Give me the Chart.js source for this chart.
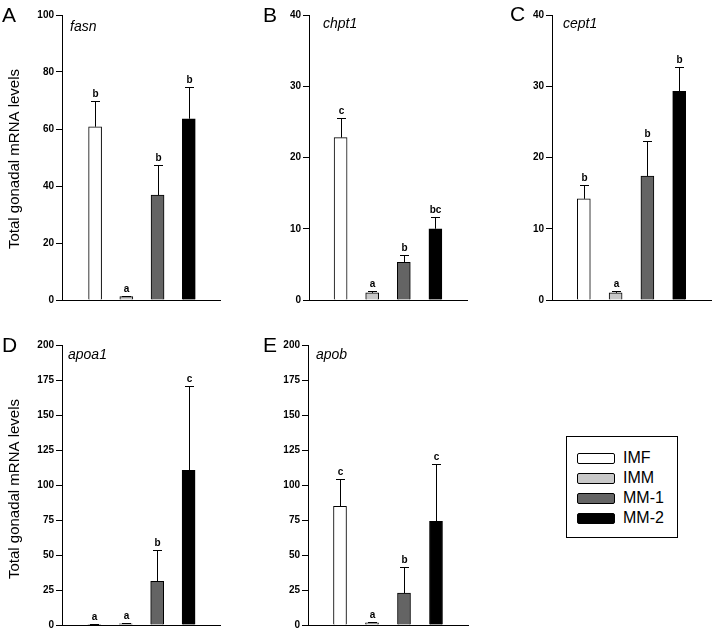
<!DOCTYPE html>
<html>
<head>
<meta charset="utf-8">
<script src="https://cdn.jsdelivr.net/npm/chart.js@4.4.0/dist/chart.umd.min.js"></script>
<style>
  body { margin: 0; background: #fff; }
  #wrap { position: relative; width: 712px; height: 633px; overflow: hidden; }
  canvas { position: absolute; }
  #legend { position: absolute; left: 566px; top: 436px; width: 110px; height: 100px;
            border: 1px solid #000; font: 16px "Liberation Sans", Arial, sans-serif; }
  .row { position: absolute; left: 10px; height: 20px; display: flex; align-items: center; }
  .sw { width: 36px; height: 9px; border: 1px solid #000; border-radius: 2px; margin-right: 8px; }
</style>
</head>
<body>
<div id="wrap">
  <canvas id="pA" width="228" height="310" style="left:0;top:0"></canvas>
  <canvas id="pB" width="240" height="310" style="left:230px;top:0"></canvas>
  <canvas id="pC" width="242" height="310" style="left:470px;top:0"></canvas>
  <canvas id="pD" width="228" height="313" style="left:0;top:320px"></canvas>
  <canvas id="pE" width="240" height="313" style="left:240px;top:320px"></canvas>
  <div id="legend"></div>
</div>
<script>
// groups and bar colours
const categories = ['IMF', 'IMM', 'MM-1', 'MM-2'];
const barColors = ['#ffffff', '#c8c8c8', '#646464', '#000000'];

// mean and SE (upper whisker)
const fasnMean = [60.8, 1.2, 36.8, 63.6];
const fasnErr = [9.0, 0.3, 10.6, 11.2];
const fasnLetters = ['b', 'a', 'b', 'b'];

const chpt1Mean = [22.8, 1.0, 5.3, 10.0];
const chpt1Err = [2.7, 0.2, 1.0, 1.7];
const chpt1Letters = ['c', 'a', 'b', 'bc'];

const cept1Mean = [14.2, 1.0, 17.4, 29.3];
const cept1Err = [1.9, 0.2, 4.9, 3.4];
const cept1Letters = ['b', 'a', 'b', 'b'];

const apoa1Mean = [0.4, 0.9, 31.2, 110.5];
const apoa1Err = [0.2, 0.3, 22.6, 60.5];
const apoa1Letters = ['a', 'a', 'b', 'c'];

const apobMean = [84.8, 1.5, 22.8, 74.0];
const apobErr = [19.8, 0.3, 18.9, 41.3];
const apobLetters = ['c', 'a', 'b', 'c'];

// y axis ticks
const ticks100 = [0, 20, 40, 60, 80, 100];
const ticks40 = [0, 10, 20, 30, 40];
const ticks200 = [0, 25, 50, 75, 100, 125, 150, 175, 200];

const FONT = '"Liberation Sans", Arial, sans-serif';
const yTitle = 'Total gonadal mRNA levels';

// whiskers, letters, panel label, gene name, y title
const panelDecor = {
  id: 'panelDecor',
  afterDatasetsDraw(chart, args, o) {
    const ctx = chart.ctx;
    const xs = chart.scales.x, ys = chart.scales.y;
    ctx.save();
    ctx.strokeStyle = '#000';
    ctx.fillStyle = '#000';
    ctx.lineWidth = 1;
    o.mean.forEach((m, i) => {
      const px = Math.round(xs.getPixelForValue(i + 1));
      const barTop = ys.getPixelForValue(m);
      const top = Math.round(ys.getPixelForValue(m + o.err[i]));
      ctx.beginPath();
      ctx.moveTo(px + 0.5, barTop);
      ctx.lineTo(px + 0.5, top);
      ctx.moveTo(px - 4, top + 0.5);
      ctx.lineTo(px + 5, top + 0.5);
      ctx.stroke();
      ctx.font = 'bold 10px ' + FONT;
      ctx.textAlign = 'center';
      ctx.textBaseline = 'alphabetic';
      ctx.fillText(o.letters[i], px + 0.5, Math.min(top, barTop) - 4);
    });
    ctx.textAlign = 'left';
    ctx.font = '21px ' + FONT;
    ctx.fillText(o.panel, o.panelX, o.panelY);
    ctx.font = 'italic 14px ' + FONT;
    ctx.fillText(o.gene, o.geneX, o.geneY);
    if (o.titleY) {
      ctx.translate(19, o.titleY);
      ctx.rotate(-Math.PI / 2);
      ctx.textAlign = 'center';
      ctx.font = '15px ' + FONT;
      ctx.fillText(yTitle, 0, 0);
    }
    ctx.restore();
  }
};

function makePanel(id, mean, err, letters, yTicks, layout, deco) {
  new Chart(document.getElementById(id), {
    type: 'bar',
    data: {
      datasets: [{
        data: categories.map((c, i) => ({ x: i + 1, y: mean[i] })),
        backgroundColor: barColors,
        borderColor: '#000',
        borderWidth: 1,
        barThickness: 13
      }]
    },
    options: {
      responsive: false,
      animation: false,
      devicePixelRatio: 1,
      layout: { padding: { left: 0, top: layout.top, right: layout.right, bottom: layout.bottom } },
      plugins: {
        legend: { display: false },
        tooltip: { enabled: false },
        panelDecor: Object.assign({ mean, err, letters }, deco)
      },
      scales: {
        x: {
          type: 'linear', min: layout.xMin, max: 5, offset: false,
          ticks: { display: false },
          grid: { display: false, offset: false },
          border: { display: true, color: '#000', width: 1 },
          afterFit: s => { s.height = 0; }
        },
        y: {
          min: yTicks[0], max: yTicks[yTicks.length - 1],
          afterBuildTicks: s => { s.ticks = yTicks.map(v => ({ value: v })); },
          ticks: { color: '#000', padding: 2, font: { family: FONT, size: 10, weight: 'bold' } },
          grid: { display: true, drawOnChartArea: false, drawTicks: true, tickLength: 6, color: '#000' },
          border: { display: true, color: '#000', width: 1 },
          afterFit: s => { s.width = layout.yWidth; }
        }
      }
    },
    plugins: [panelDecor]
  });
}

makePanel('pA', fasnMean, fasnErr, fasnLetters, ticks100,
  { top: 15, right: 8, bottom: 10, yWidth: 62, xMin: -0.06 },
  { panel: 'A', panelX: 2, panelY: 22, gene: 'fasn', geneX: 70, geneY: 31, titleY: 159 });
makePanel('pB', chpt1Mean, chpt1Err, chpt1Letters, ticks40,
  { top: 15, right: 3, bottom: 10, yWidth: 79, xMin: 0 },
  { panel: 'B', panelX: 33, panelY: 22, gene: 'chpt1', geneX: 93, geneY: 28 });
makePanel('pC', cept1Mean, cept1Err, cept1Letters, ticks40,
  { top: 15, right: 1, bottom: 10, yWidth: 82, xMin: 0 },
  { panel: 'C', panelX: 40, panelY: 21, gene: 'cept1', geneX: 93, geneY: 28 });
makePanel('pD', apoa1Mean, apoa1Err, apoa1Letters, ticks200,
  { top: 25, right: 8, bottom: 5, yWidth: 62, xMin: -0.03 },
  { panel: 'D', panelX: 2, panelY: 32, gene: 'apoa1', geneX: 68, geneY: 39, titleY: 169 });
makePanel('pE', apobMean, apobErr, apobLetters, ticks200,
  { top: 25, right: 12, bottom: 5, yWidth: 68, xMin: 0 },
  { panel: 'E', panelX: 23, panelY: 32, gene: 'apob', geneX: 76, geneY: 39 });

// legend
const legend = document.getElementById('legend');
categories.forEach((c, i) => {
  const row = document.createElement('div');
  row.className = 'row';
  row.style.top = (11 + i * 20) + 'px';
  row.innerHTML = '<div class="sw" style="background:' + barColors[i] + '"></div><span>' + c + '</span>';
  legend.appendChild(row);
});
</script>
</body>
</html>
